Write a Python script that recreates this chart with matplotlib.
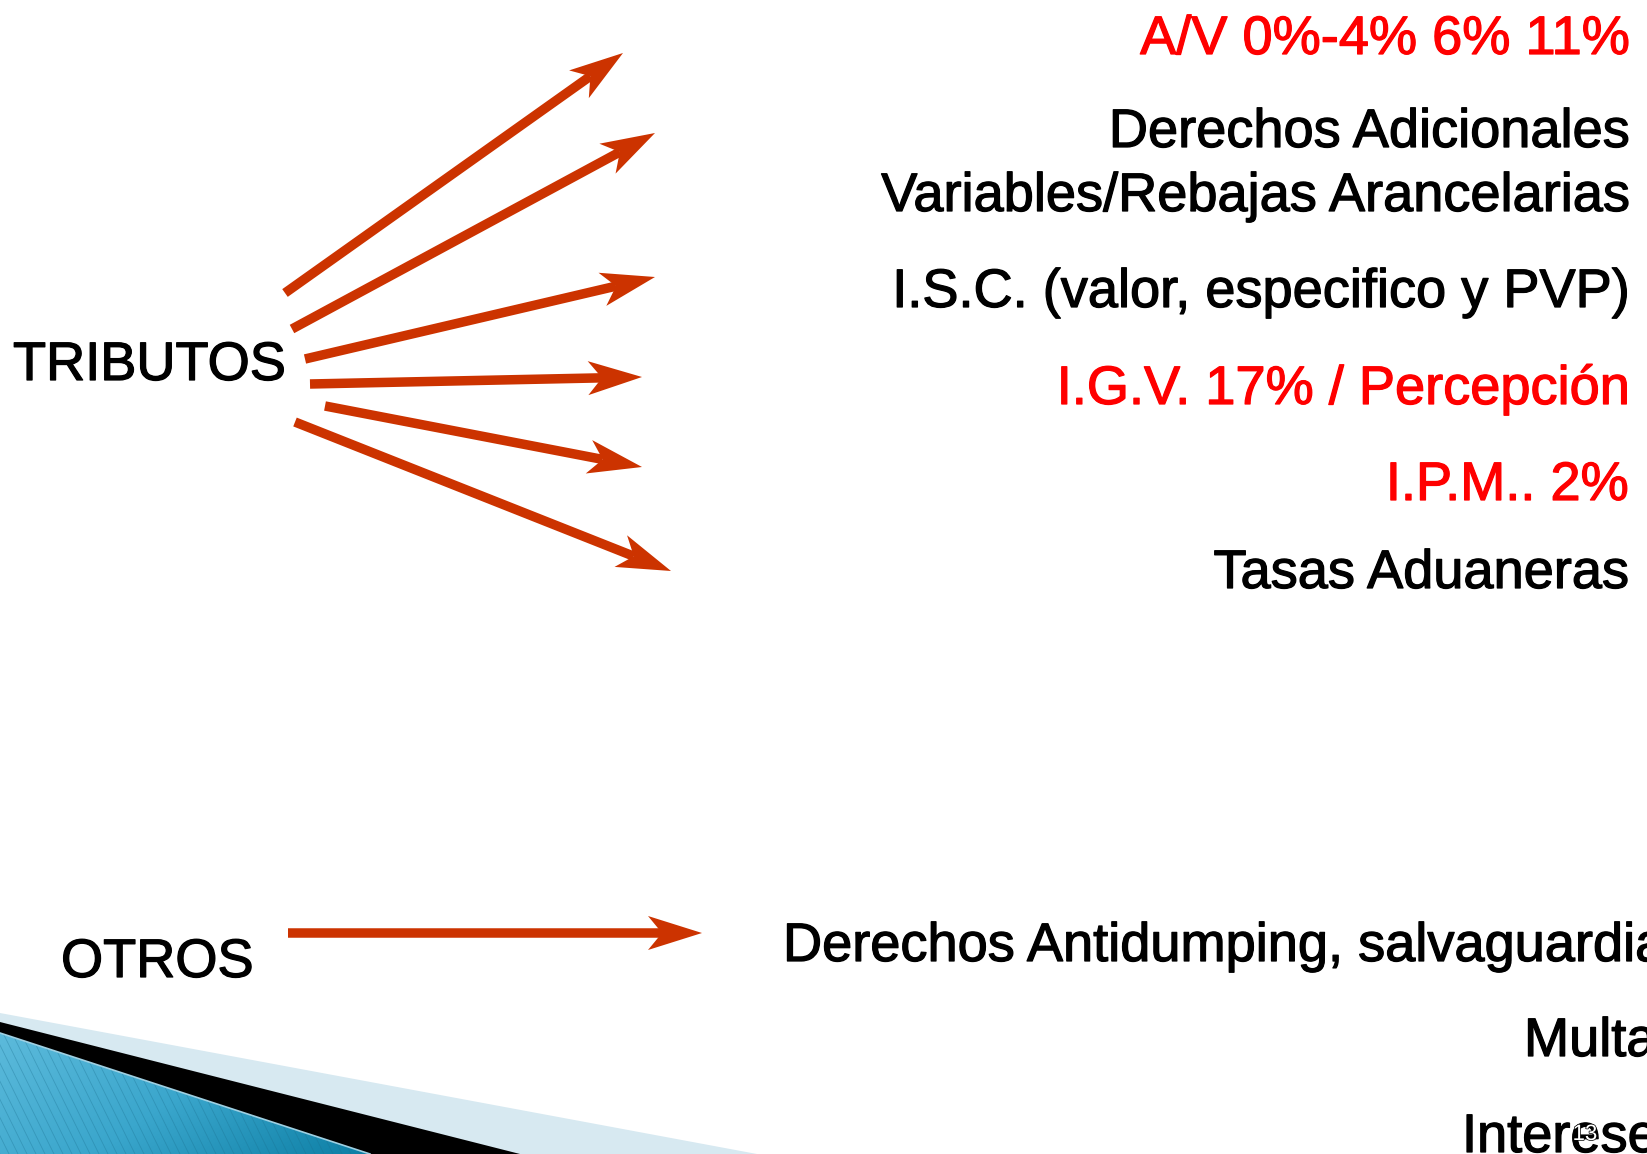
import numpy as np
import matplotlib
matplotlib.use("Agg")
import matplotlib.pyplot as plt
from matplotlib.patches import Polygon
from matplotlib.colors import LinearSegmentedColormap
import matplotlib.patheffects as pe

W, H = 1647, 1154
plt.rcParams['font.family'] = ['Liberation Sans', 'DejaVu Sans']

# labels on the right (text, colour, baseline y)
right_labels = ["A/V 0%-4% 6% 11%", "Derechos Adicionales", "Variables/Rebajas Arancelarias",
                "I.S.C. (valor, especifico y PVP)", "I.G.V. 17% / Percepción",
                "I.P.M.. 2%", "Tasas Aduaneras"]
right_colors = ["#ff0000", "black", "black", "black", "#ff0000", "#ff0000", "black"]
right_base = [54, 147, 211, 307, 404, 500, 588]

# arrows fanning out of TRIBUTOS, plus the OTROS arrow (start, tip) in pixels
arrow_start = [(285, 293), (292, 329), (305, 359), (310, 384), (325, 406), (295, 422), (288, 933)]
arrow_tip = [(623, 53), (655, 133), (655, 277), (642, 377), (642, 467), (671, 571), (702, 933)]
arrow_color = "#cc3300"

# lower labels (text, left x, baseline y)
otros_labels = ["Derechos Antidumping, salvaguardia", "Multas", "Intereses"]
otros_x = [783, 1524, 1462]
otros_base = [961, 1056, 1152]

fig = plt.figure(figsize=(W / 100, H / 100), dpi=100)
ax = fig.add_axes([0, 0, 1, 1])
ax.set_xlim(0, W)
ax.set_ylim(H, 0)
ax.axis('off')

# bottom-left decoration
ax.add_patch(Polygon([(0, 1013), (757, 1154), (0, 1154)], closed=True, color="#d7e9f1", lw=0))
ax.add_patch(Polygon([(0, 1022), (520, 1154), (0, 1154)], closed=True, color="black", lw=0))
blue = Polygon([(0, 1033), (370, 1154), (0, 1154)], closed=True, facecolor="none", lw=0)
ax.add_patch(blue)
gx, gy = np.meshgrid(np.linspace(0, 1, 200), np.linspace(0, 1, 60))
grad = gx * 0.8 + gy * 0.4
cmap = LinearSegmentedColormap.from_list("b", ["#5cbadb", "#3aa6cc", "#0d7fa5"])
im = ax.imshow(grad, extent=[0, 370, 1154, 1033], cmap=cmap, aspect='auto', zorder=1)
im.set_clip_path(blue)
for sx in np.arange(-60, 380, 9):
    ln, = ax.plot([sx, sx + 60], [1033, 1154], color="#1a6f8f", lw=0.6, alpha=0.35, zorder=2)
    ln.set_clip_path(blue)
ax.plot([0, 370], [1033, 1154], color="#9fd0e2", lw=1.2, zorder=3)

# arrows
lw_px = 9.5
for (x0, y0), (x1, y1) in zip(arrow_start, arrow_tip):
    d = np.array([x1 - x0, y1 - y0], float)
    u = d / np.hypot(*d)
    n = np.array([-u[1], u[0]])
    tip = np.array([x1, y1], float)
    back = tip - u * 54
    notch = tip - u * 40
    head = [tip, back + n * 17, notch, back - n * 17]
    ax.plot([x0, notch[0]], [y0, notch[1]], color=arrow_color, lw=lw_px * 0.72,
            solid_capstyle='butt', zorder=4)
    ax.add_patch(Polygon(head, closed=True, color=arrow_color, lw=0, zorder=5))


def bold_fx(c):
    return [pe.withStroke(linewidth=0.9, foreground=c)]


# texts
for txt, c, yb in zip(right_labels, right_colors, right_base):
    ax.text(1629, yb, txt, color=c, fontsize=39, ha='right', va='baseline', zorder=6,
            path_effects=bold_fx(c))

ax.text(13, 380, "TRIBUTOS", fontsize=39, ha='left', va='baseline', zorder=6,
        path_effects=bold_fx("black"))
ax.text(61, 977, "OTROS", fontsize=39, ha='left', va='baseline', zorder=6,
        path_effects=bold_fx("black"))
for txt, x, yb in zip(otros_labels, otros_x, otros_base):
    ax.text(x, yb, txt, fontsize=39, ha='left', va='baseline', zorder=6,
            path_effects=bold_fx("black"))

# slide number sitting over the last label
ax.text(1585, 1140, "13", fontsize=16, color="white", ha='center', va='baseline', zorder=7,
        path_effects=[pe.withStroke(linewidth=1.0, foreground="black")])

fig.savefig("out.png", dpi=100)
